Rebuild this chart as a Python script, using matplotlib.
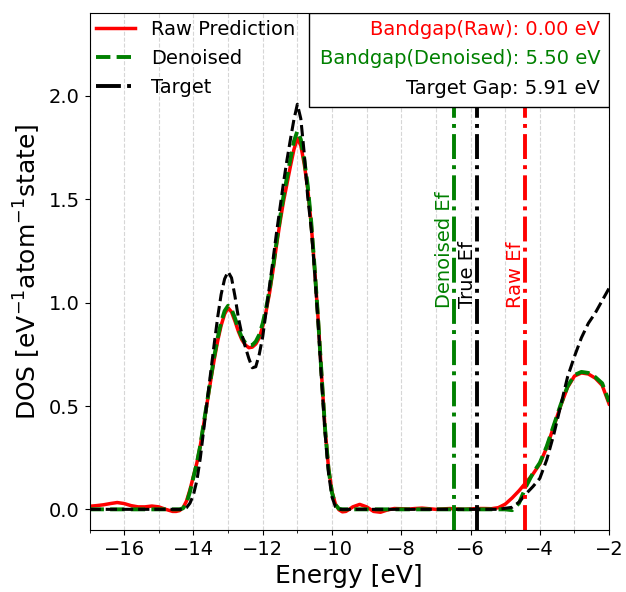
import numpy as np
import matplotlib
matplotlib.use("Agg")
import matplotlib.pyplot as plt
from matplotlib.ticker import MultipleLocator
from matplotlib.patches import Rectangle

# energy grid: coarse tails, finer sampling around the valence peaks
energy = ([round(-17.0 + 0.2 * i, 1) for i in range(13)] +
          [round(-14.5 + 0.1 * i, 1) for i in range(51)] +
          [round(-9.4 + 0.2 * i, 1) for i in range(38)])

raw = [
    # -17.0 .. -14.6
    0.015, 0.018, 0.022, 0.028, 0.033, 0.028, 0.018, 0.012, 0.012, 0.016, 0.012, 0.000, -0.010,
    # -14.5 .. -9.5
    -0.010, -0.006, 0.008, 0.040, 0.095, 0.160,
    0.225, 0.310, 0.415, 0.520, 0.625, 0.725, 0.815, 0.890, 0.945, 0.975,
    0.955, 0.910, 0.860, 0.820, 0.795, 0.782, 0.785, 0.800, 0.830, 0.885,
    0.960, 1.050, 1.160, 1.280, 1.390, 1.490, 1.575, 1.660, 1.740, 1.795,
    1.760, 1.670, 1.550, 1.380, 1.160, 0.920, 0.650, 0.390, 0.200, 0.085,
    0.025, -0.002, -0.012, -0.010, 0.000,
    # -9.4 .. -2.0
    0.012, 0.024, 0.012, -0.010, -0.014, -0.003, 0.004, 0.003,
    0.001, 0.004, 0.006, 0.003, 0.000,
    0.002, 0.004, 0.002, 0.000, 0.002,
    0.004, 0.004, 0.003, 0.008, 0.025,
    0.055, 0.090, 0.130, 0.170, 0.220,
    0.300, 0.400, 0.500, 0.590, 0.645,
    0.660, 0.655, 0.635, 0.600, 0.510,
]

denoised = [
    0.0, 0.0, 0.0, 0.0, 0.0, 0.0, 0.0, 0.0, 0.0, 0.0, 0.0, 0.0, 0.0,
    0.0, 0.0, 0.005, 0.030, 0.085, 0.155,
    0.225, 0.310, 0.420, 0.525, 0.635, 0.740, 0.830, 0.905, 0.960, 0.985,
    0.968, 0.925, 0.872, 0.830, 0.805, 0.792, 0.795, 0.812, 0.845, 0.900,
    0.975, 1.065, 1.175, 1.295, 1.410, 1.515, 1.605, 1.695, 1.780, 1.830,
    1.790, 1.690, 1.565, 1.390, 1.165, 0.920, 0.650, 0.390, 0.195, 0.080,
    0.022, 0.003, 0.0, 0.0, 0.0,
    0.0, 0.0, 0.0, 0.0, 0.0, 0.0, 0.0, 0.0,
    0.0, 0.0, 0.0, 0.0, 0.0,
    0.0, 0.0, 0.0, 0.0, 0.0,
    0.0, 0.0, 0.0, 0.0, 0.0,
    -0.004, 0.030, 0.110, 0.175, 0.225,
    0.305, 0.405, 0.505, 0.595, 0.650,
    0.665, 0.660, 0.640, 0.610, 0.520,
]

target = [
    0.0, 0.0, 0.0, 0.0, 0.0, 0.0, 0.0, 0.0, 0.0, 0.0, 0.0, 0.0, 0.0,
    0.0, 0.0, 0.0, 0.008, 0.030, 0.070,
    0.140, 0.250, 0.390, 0.530, 0.665, 0.800, 0.930, 1.040, 1.115, 1.150,
    1.120, 1.030, 0.925, 0.845, 0.785, 0.730, 0.685, 0.690, 0.750, 0.835,
    0.960, 1.085, 1.210, 1.340, 1.460, 1.580, 1.690, 1.790, 1.885, 1.960,
    1.890, 1.720, 1.510, 1.360, 1.150, 0.900, 0.620, 0.370, 0.175, 0.060,
    0.012, 0.0, 0.0, 0.0, 0.0,
    0.0, 0.0, 0.0, 0.0, 0.0, 0.0, 0.0, 0.0,
    0.0, 0.0, 0.0, 0.0, 0.0,
    0.0, 0.0, 0.0, 0.0, 0.0,
    0.0, 0.0, 0.0, 0.0, 0.005,
    0.010, 0.035, 0.075, 0.110, 0.150,
    0.240, 0.360, 0.500, 0.640, 0.740,
    0.830, 0.900, 0.950, 1.010, 1.070,
]

ef_raw = -4.43
ef_denoised = -6.47
ef_true = -5.80

gap_labels = ["Bandgap(Raw): 0.00 eV", "Bandgap(Denoised): 5.50 eV", "Target Gap: 5.91 eV"]
gap_colors = ["red", "green", "black"]

fig = plt.figure(figsize=(6.26, 5.92), dpi=100)
ax = fig.add_axes([0.143, 0.1047, 0.830, 0.8728])

ax.plot(energy, raw, color="red", lw=2.5, label="Raw Prediction")
ax.plot(energy, denoised, color="green", lw=2.8, ls="--", label="Denoised")
ax.plot(energy, target, color="black", lw=2.2, ls="--")

ax.axvline(ef_raw, color="red", ls="-.", lw=2.8)
ax.axvline(ef_denoised, color="green", ls="-.", lw=2.8)
ax.axvline(ef_true, color="black", ls="-.", lw=2.8, label="Target")

ax.text(ef_denoised, 0.975, "Denoised Ef", rotation=90, ha="right", va="bottom", color="green", fontsize=14)
ax.text(ef_true, 0.975, "True Ef", rotation=90, ha="right", va="bottom", color="black", fontsize=14)
ax.text(ef_raw, 0.975, "Raw Ef", rotation=90, ha="right", va="bottom", color="red", fontsize=14)

ax.set_xlim(-17, -2)
ax.set_ylim(-0.1, 2.4)
ax.xaxis.set_major_locator(MultipleLocator(2))
ax.xaxis.set_minor_locator(MultipleLocator(1))
ax.yaxis.set_major_locator(MultipleLocator(0.5))
ax.grid(True, which="both", axis="x", ls="--", color="#cccccc", lw=0.8, alpha=0.8)
ax.tick_params(labelsize=14)
ax.set_xlabel("Energy [eV]", fontsize=18)
ax.set_ylabel("DOS [eV$^{-1}$atom$^{-1}$state]", fontsize=18)

ax.legend(loc="upper left", frameon=False, fontsize=14, borderaxespad=0.0, borderpad=0.35)

rect = Rectangle((0.4226, 0.818), 1 - 0.4226, 0.182, transform=ax.transAxes,
                 facecolor="white", edgecolor="black", lw=1.0, zorder=5)
ax.add_patch(rect)
ys = [0.969, 0.912, 0.855]
for lbl, col, yy in zip(gap_labels, gap_colors, ys):
    ax.text(0.983, yy, lbl, transform=ax.transAxes, ha="right", va="center",
            color=col, fontsize=14, zorder=6)

fig.savefig("out.png", dpi=100)
